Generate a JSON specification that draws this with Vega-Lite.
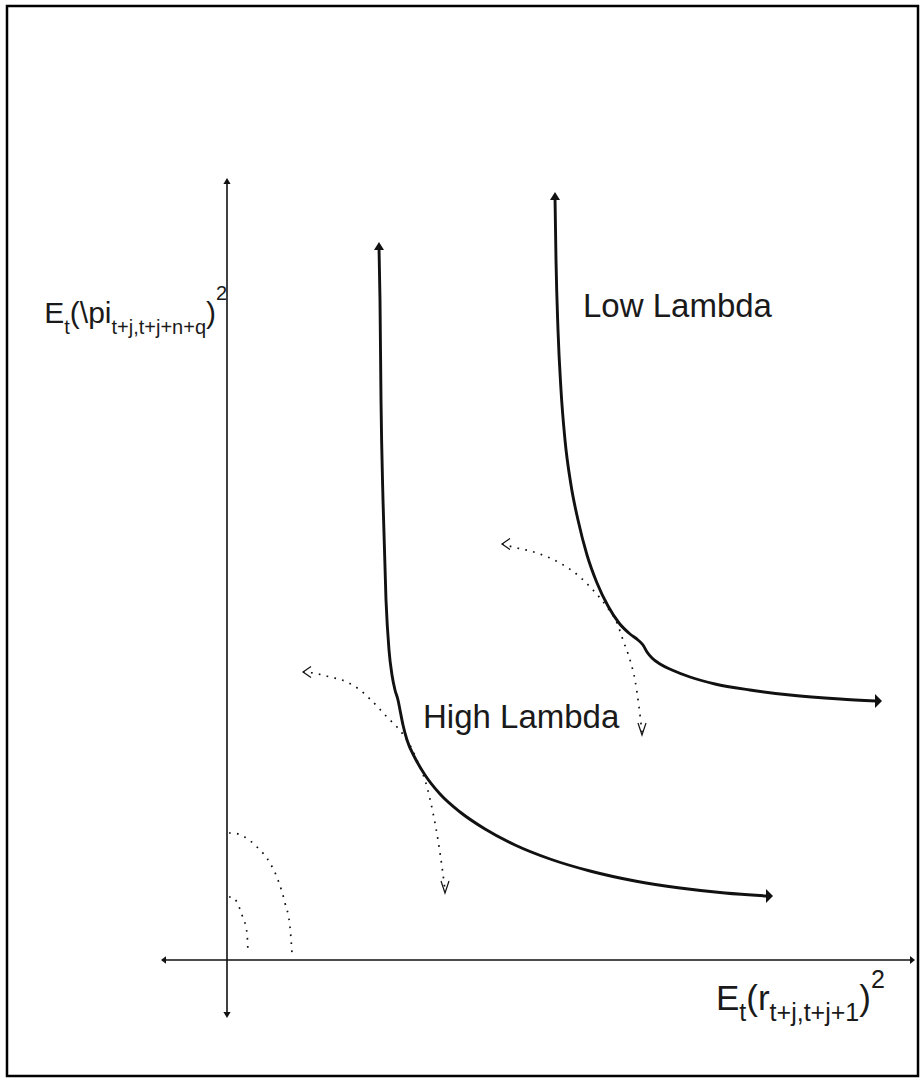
{
  "$schema": "https://vega.github.io/schema/vega-lite/v6.json",
  "width": 924,
  "height": 1081,
  "autosize": {"type": "fit", "contains": "padding"},
  "padding": {"left": 7, "right": 6, "top": 6, "bottom": 5},
  "background": "#ffffff",
  "config": {"view": {"stroke": "#000000", "strokeWidth": 2.5}},
  "datasets": {
    "curves": [
      {"s": "yaxis", "i": 0, "u": 0, "v": -55},
      {"s": "yaxis", "i": 1, "u": 0, "v": 779},
      {"s": "xaxis", "i": 0, "u": -63, "v": 0},
      {"s": "xaxis", "i": 1, "u": 685, "v": 0},
      {"s": "high", "i": 0, "u": 152, "v": 713},
      {"s": "high", "i": 1, "u": 153, "v": 660},
      {"s": "high", "i": 2, "u": 154, "v": 560},
      {"s": "high", "i": 3, "u": 156, "v": 460},
      {"s": "high", "i": 4, "u": 159, "v": 360},
      {"s": "high", "i": 5, "u": 162, "v": 310},
      {"s": "high", "i": 6, "u": 165, "v": 285},
      {"s": "high", "i": 7, "u": 168, "v": 270},
      {"s": "high", "i": 8, "u": 171, "v": 260},
      {"s": "high", "i": 9, "u": 173, "v": 250},
      {"s": "high", "i": 10, "u": 176, "v": 235},
      {"s": "high", "i": 11, "u": 180, "v": 220},
      {"s": "high", "i": 12, "u": 188, "v": 202},
      {"s": "high", "i": 13, "u": 198, "v": 185},
      {"s": "high", "i": 14, "u": 213, "v": 166},
      {"s": "high", "i": 15, "u": 233, "v": 148},
      {"s": "high", "i": 16, "u": 258, "v": 131},
      {"s": "high", "i": 17, "u": 288, "v": 115},
      {"s": "high", "i": 18, "u": 323, "v": 101},
      {"s": "high", "i": 19, "u": 363, "v": 89},
      {"s": "high", "i": 20, "u": 408, "v": 79},
      {"s": "high", "i": 21, "u": 453, "v": 72},
      {"s": "high", "i": 22, "u": 498, "v": 67},
      {"s": "high", "i": 23, "u": 540, "v": 64},
      {"s": "low", "i": 0, "u": 328, "v": 763},
      {"s": "low", "i": 1, "u": 329, "v": 700},
      {"s": "low", "i": 2, "u": 331, "v": 630},
      {"s": "low", "i": 3, "u": 334, "v": 570},
      {"s": "low", "i": 4, "u": 338, "v": 520},
      {"s": "low", "i": 5, "u": 344, "v": 475},
      {"s": "low", "i": 6, "u": 351, "v": 440},
      {"s": "low", "i": 7, "u": 360, "v": 405},
      {"s": "low", "i": 8, "u": 370, "v": 377},
      {"s": "low", "i": 9, "u": 381, "v": 354},
      {"s": "low", "i": 10, "u": 392, "v": 337},
      {"s": "low", "i": 11, "u": 403, "v": 326},
      {"s": "low", "i": 12, "u": 411, "v": 320},
      {"s": "low", "i": 13, "u": 416, "v": 315},
      {"s": "low", "i": 14, "u": 420, "v": 308},
      {"s": "low", "i": 15, "u": 425, "v": 302},
      {"s": "low", "i": 16, "u": 433, "v": 296},
      {"s": "low", "i": 17, "u": 445, "v": 290},
      {"s": "low", "i": 18, "u": 463, "v": 283},
      {"s": "low", "i": 19, "u": 488, "v": 276},
      {"s": "low", "i": 20, "u": 523, "v": 270},
      {"s": "low", "i": 21, "u": 563, "v": 265},
      {"s": "low", "i": 22, "u": 613, "v": 261},
      {"s": "low", "i": 23, "u": 649, "v": 259},
      {"s": "dhigh", "i": 0, "u": 76, "v": 288},
      {"s": "dhigh", "i": 1, "u": 86, "v": 287},
      {"s": "dhigh", "i": 2, "u": 103, "v": 283},
      {"s": "dhigh", "i": 3, "u": 120, "v": 278},
      {"s": "dhigh", "i": 4, "u": 133, "v": 270},
      {"s": "dhigh", "i": 5, "u": 146, "v": 258},
      {"s": "dhigh", "i": 6, "u": 160, "v": 243},
      {"s": "dhigh", "i": 7, "u": 170, "v": 233},
      {"s": "dhigh", "i": 8, "u": 180, "v": 220},
      {"s": "dhigh", "i": 9, "u": 190, "v": 200},
      {"s": "dhigh", "i": 10, "u": 200, "v": 173},
      {"s": "dhigh", "i": 11, "u": 206, "v": 147},
      {"s": "dhigh", "i": 12, "u": 211, "v": 120},
      {"s": "dhigh", "i": 13, "u": 215, "v": 93},
      {"s": "dhigh", "i": 14, "u": 218, "v": 70},
      {"s": "dlow", "i": 0, "u": 275, "v": 416},
      {"s": "dlow", "i": 1, "u": 286, "v": 413},
      {"s": "dlow", "i": 2, "u": 310, "v": 407},
      {"s": "dlow", "i": 3, "u": 333, "v": 397},
      {"s": "dlow", "i": 4, "u": 353, "v": 383},
      {"s": "dlow", "i": 5, "u": 366, "v": 370},
      {"s": "dlow", "i": 6, "u": 380, "v": 353},
      {"s": "dlow", "i": 7, "u": 390, "v": 337},
      {"s": "dlow", "i": 8, "u": 396, "v": 320},
      {"s": "dlow", "i": 9, "u": 403, "v": 300},
      {"s": "dlow", "i": 10, "u": 408, "v": 280},
      {"s": "dlow", "i": 11, "u": 412, "v": 253},
      {"s": "dlow", "i": 12, "u": 415, "v": 228},
      {"s": "arc1", "i": 0, "u": 2, "v": 127},
      {"s": "arc1", "i": 1, "u": 5, "v": 127},
      {"s": "arc1", "i": 2, "u": 30, "v": 113},
      {"s": "arc1", "i": 3, "u": 43, "v": 97},
      {"s": "arc1", "i": 4, "u": 51, "v": 80},
      {"s": "arc1", "i": 5, "u": 58, "v": 57},
      {"s": "arc1", "i": 6, "u": 63, "v": 33},
      {"s": "arc1", "i": 7, "u": 65, "v": 7},
      {"s": "arc2", "i": 0, "u": 2, "v": 63},
      {"s": "arc2", "i": 1, "u": 5, "v": 63},
      {"s": "arc2", "i": 2, "u": 15, "v": 45},
      {"s": "arc2", "i": 3, "u": 20, "v": 27},
      {"s": "arc2", "i": 4, "u": 21, "v": 7}
    ],
    "heads": [
      {"k": "axup", "u": 0, "v": 779},
      {"k": "axdown", "u": 0, "v": -55},
      {"k": "axleft", "u": -63.5, "v": 0},
      {"k": "axright", "u": 685.5, "v": 0},
      {"k": "cup", "u": 152, "v": 714},
      {"k": "cup", "u": 328, "v": 764},
      {"k": "cright", "u": 542.5, "v": 64},
      {"k": "cright", "u": 651.5, "v": 259},
      {"k": "dleft", "u": 80, "v": 288},
      {"k": "dleft", "u": 279, "v": 416},
      {"k": "ddown", "u": 218, "v": 73},
      {"k": "ddown", "u": 415, "v": 231}
    ],
    "labels": [
      {"g": "lam", "t": "Low Lambda", "u": 356, "v": 643},
      {"g": "lam", "t": "High Lambda", "u": 196, "v": 232},
      {"g": "ybig", "t": "E", "u": -182.8, "v": 637},
      {"g": "ysmall", "t": "t", "u": -162.8, "v": 626},
      {"g": "ybig", "t": "(\\pi", "u": -157.2, "v": 637},
      {"g": "ysmall", "t": "t+j,t+j+n+q", "u": -115.5, "v": 626},
      {"g": "ybig", "t": ")", "u": -21, "v": 637},
      {"g": "ysmall", "t": "2", "u": -11, "v": 660},
      {"g": "xbig", "t": "E", "u": 489, "v": -50},
      {"g": "xsmall", "t": "t", "u": 512.3, "v": -61},
      {"g": "xbig", "t": "(r", "u": 519.3, "v": -50},
      {"g": "xsmall", "t": "t+j,t+j+1", "u": 542.6, "v": -61},
      {"g": "xbig", "t": ")", "u": 632.2, "v": -50},
      {"g": "xsmall", "t": "2", "u": 643.9, "v": -28}
    ]
  },
  "encoding": {
    "x": {"field": "u", "type": "quantitative", "scale": {"domain": [-220, 691], "nice": false, "zero": false}, "axis": null},
    "y": {"field": "v", "type": "quantitative", "scale": {"domain": [-116, 954], "nice": false, "zero": false}, "axis": null}
  },
  "layer": [
    {
      "data": {"name": "curves"},
      "transform": [{"filter": "datum.s === 'yaxis' || datum.s === 'xaxis'"}],
      "mark": {"type": "line", "color": "#111111", "strokeWidth": 1.6},
      "encoding": {"detail": {"field": "s"}, "order": {"field": "i", "type": "quantitative"}}
    },
    {
      "data": {"name": "curves"},
      "transform": [{"filter": "datum.s === 'high' || datum.s === 'low'"}],
      "mark": {"type": "line", "color": "#111111", "strokeWidth": 2.9, "interpolate": "monotone"},
      "encoding": {"detail": {"field": "s"}, "order": {"field": "i", "type": "quantitative"}}
    },
    {
      "data": {"name": "curves"},
      "transform": [{"filter": "datum.s === 'dhigh' || datum.s === 'dlow' || datum.s === 'arc1' || datum.s === 'arc2'"}],
      "mark": {"type": "line", "color": "#111111", "strokeWidth": 1.7, "strokeDash": [1.7, 6.3], "interpolate": "monotone"},
      "encoding": {"detail": {"field": "s"}, "order": {"field": "i", "type": "quantitative"}}
    },
    {
      "data": {"name": "heads"},
      "transform": [{"filter": "datum.k === 'axup'"}],
      "mark": {"type": "point", "shape": "M 0 -1 L 1.2 1 L -1.2 1 Z", "size": 36, "filled": true, "color": "#111111", "opacity": 1}
    },
    {
      "data": {"name": "heads"},
      "transform": [{"filter": "datum.k === 'axdown'"}],
      "mark": {"type": "point", "shape": "M 0 1 L 1.2 -1 L -1.2 -1 Z", "size": 36, "filled": true, "color": "#111111", "opacity": 1}
    },
    {
      "data": {"name": "heads"},
      "transform": [{"filter": "datum.k === 'axleft'"}],
      "mark": {"type": "point", "shape": "M -1 0 L 1 -1.5 L 1 1.5 Z", "size": 25, "filled": true, "color": "#111111", "opacity": 1}
    },
    {
      "data": {"name": "heads"},
      "transform": [{"filter": "datum.k === 'axright'"}],
      "mark": {"type": "point", "shape": "M 1 0 L -1 -1.6 L -1 1.6 Z", "size": 25, "filled": true, "color": "#111111", "opacity": 1}
    },
    {
      "data": {"name": "heads"},
      "transform": [{"filter": "datum.k === 'cup'"}],
      "mark": {"type": "point", "shape": "M 0 -1 L 1.25 1 L -1.25 1 Z", "size": 64, "filled": true, "color": "#111111", "opacity": 1}
    },
    {
      "data": {"name": "heads"},
      "transform": [{"filter": "datum.k === 'cright'"}],
      "mark": {"type": "point", "shape": "M 1 0 L -1 -2 L -1 2 Z", "size": 49, "filled": true, "color": "#111111", "opacity": 1}
    },
    {
      "data": {"name": "heads"},
      "transform": [{"filter": "datum.k === 'dleft'"}],
      "mark": {"type": "point", "shape": "M 1 -1.4 L -1 0 L 1 1.4", "size": 64, "filled": false, "color": "#111111", "strokeWidth": 1.2, "opacity": 1}
    },
    {
      "data": {"name": "heads"},
      "transform": [{"filter": "datum.k === 'ddown'"}],
      "mark": {"type": "point", "shape": "M -1 -1.5 L 0 1.5 L 1 -1.5", "size": 64, "filled": false, "color": "#111111", "strokeWidth": 1.2, "opacity": 1}
    },
    {
      "data": {"name": "labels"},
      "transform": [{"filter": "datum.g === 'lam'"}],
      "mark": {"type": "text", "align": "left", "baseline": "alphabetic", "font": "Liberation Sans", "fontSize": 33, "color": "#1a1a1a"},
      "encoding": {"text": {"field": "t"}}
    },
    {
      "data": {"name": "labels"},
      "transform": [{"filter": "datum.g === 'ybig'"}],
      "mark": {"type": "text", "align": "left", "baseline": "alphabetic", "font": "Liberation Sans", "fontSize": 30, "color": "#1a1a1a"},
      "encoding": {"text": {"field": "t"}}
    },
    {
      "data": {"name": "labels"},
      "transform": [{"filter": "datum.g === 'ysmall'"}],
      "mark": {"type": "text", "align": "left", "baseline": "alphabetic", "font": "Liberation Sans", "fontSize": 20, "color": "#1a1a1a"},
      "encoding": {"text": {"field": "t"}}
    },
    {
      "data": {"name": "labels"},
      "transform": [{"filter": "datum.g === 'xbig'"}],
      "mark": {"type": "text", "align": "left", "baseline": "alphabetic", "font": "Liberation Sans", "fontSize": 35, "color": "#1a1a1a"},
      "encoding": {"text": {"field": "t"}}
    },
    {
      "data": {"name": "labels"},
      "transform": [{"filter": "datum.g === 'xsmall'"}],
      "mark": {"type": "text", "align": "left", "baseline": "alphabetic", "font": "Liberation Sans", "fontSize": 25, "color": "#1a1a1a"},
      "encoding": {"text": {"field": "t"}}
    }
  ]
}
